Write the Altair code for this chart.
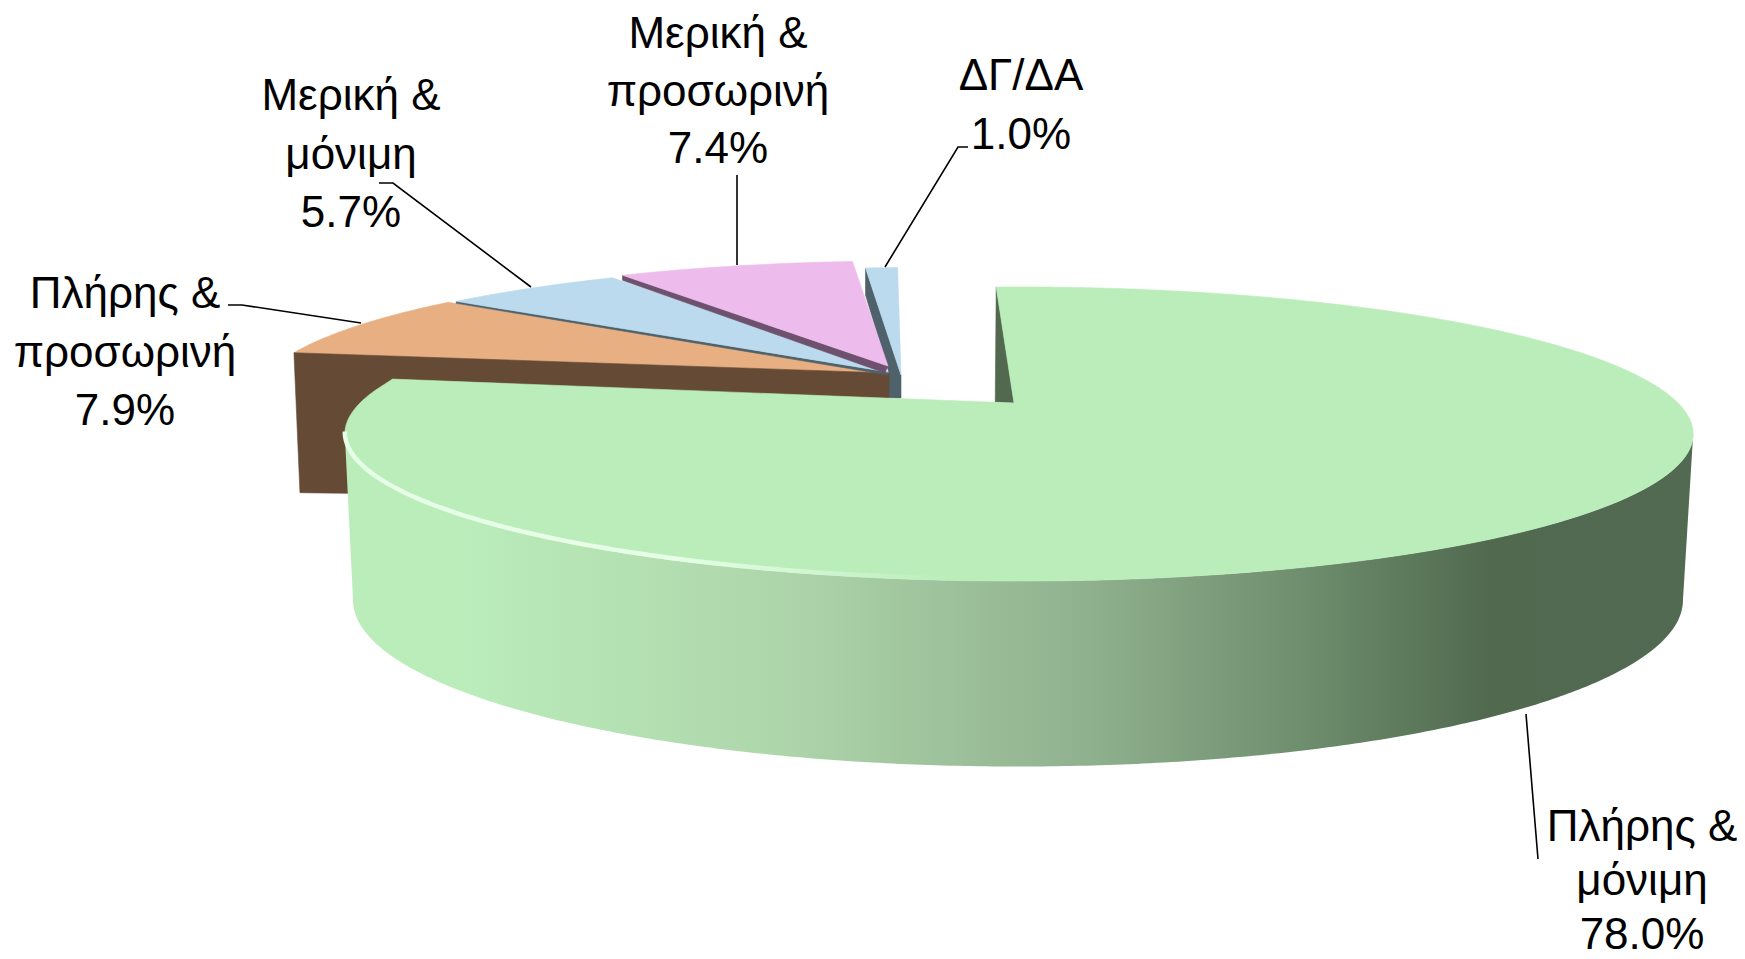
import math
import altair as alt
import pandas as pd

# ---- chart values ----
categories = ["Πλήρης & μόνιμη", "Πλήρης & προσωρινή", "Μερική & μόνιμη", "Μερική & προσωρινή", "ΔΓ/ΔΑ"]
shares = [78.0, 7.9, 5.7, 7.4, 1.0]
label_lines = [
    ["Πλήρης &", "μόνιμη", "78.0%"],
    ["Πλήρης &", "προσωρινή", "7.9%"],
    ["Μερική &", "μόνιμη", "5.7%"],
    ["Μερική &", "προσωρινή", "7.4%"],
    ["ΔΓ/ΔΑ", "1.0%"],
]

# ---- layout and style (page pixels of the reference) ----
START_ANGLE = -2.4
K = 0.211
MAIN_TOP = dict(cx=1019, cy=403, a=659, b=140.5)
MAIN_BOTTOM = dict(cx=1018, cy=565, a=650, b=159)
MAIN_APEX = (1014, 403)
CHAMFER = (6, -4)
BACK_ARC = {
    "Πλήρης & προσωρινή": dict(cx=888, cy=371, a=619, b=129),
    "Μερική & μόνιμη": dict(cx=896, cy=370, a=619, b=129),
    "Μερική & προσωρινή": dict(cx=906, cy=367.5, a=619, b=129),
    "ΔΓ/ΔΑ": dict(cx=919, cy=374, a=619, b=129),
}
BACK_APEX = {
    "Πλήρης & προσωρινή": (889, 373),
    "Μερική & μόνιμη": (888, 372),
    "Μερική & προσωρινή": (888, 366),
    "ΔΓ/ΔΑ": (901, 375),
}
TOP_COLOR = {
    categories[0]: "#bbedbb",
    categories[1]: "#e7af82",
    categories[2]: "#bbdaee",
    categories[3]: "#edbced",
    categories[4]: "#bbdaee",
}
BROWN, PINK_WALL, BLUE_WALL, GREEN_WALL = "#654b36", "#6e516e", "#4f626c", "#52694f"
WALL_STOPS = [
    (0.0, "#bbedbb"), (0.08, "#bbedbb"), (0.32, "#aed6ab"), (0.55, "#90b18e"),
    (0.72, "#6c8c6b"), (0.85, "#50694f"), (1.0, "#526a52"),
]
LEADERS = [
    [(1526, 714), (1538, 859)],
    [(228, 305), (242, 305), (361, 323)],
    [(379, 183), (393, 183), (531, 287)],
    [(737, 175), (737, 265)],
    [(968, 147), (958, 147), (885, 267)],
]
LABEL_CENTER_X = [1642, 125, 351, 718, 1021]
LABEL_FIRST_Y = [828, 295, 97, 35, 77]
LABEL_STEP = [54, 58.5, 58.5, 57.5, 58.5]
FONT = "Liberation Sans"
FONT_SIZE = 44
PROJ = dict(type="identity", scale=1, translate=[-8, -8])


# ---- geometry derived from the shares ----
def pt(theta, d):
    t = math.radians(theta)
    X, Y = math.sin(t), math.cos(t)
    den = 1 + K * Y
    return [d["cx"] + d["a"] * X / den, d["cy"] - d["b"] * Y / den]


def arc(t0, t1, d, step=0.5):
    n = max(2, int(abs(t1 - t0) / step))
    return [pt(t0 + (t1 - t0) * i / n, d) for i in range(n + 1)]


angles = {}
cur = START_ANGLE
for c, s in zip(categories, shares):
    angles[c] = (cur, cur + s * 3.6)
    cur += s * 3.6

# the points where each perspective ellipse is widest: the side wall ends there
SIDE = math.degrees(math.acos(-K))


def poly(points, **mark):
    ring = [list(p) for p in points] + [list(points[0])]
    f = {"type": "Feature", "properties": {}, "geometry": {"type": "Polygon", "coordinates": [ring]}}
    m = dict(mark)
    if "fill" in m and isinstance(m["fill"], str):
        m.setdefault("stroke", m["fill"])
        m.setdefault("strokeWidth", 0.6)
    return alt.Chart(alt.Data(values=[f])).mark_geoshape(**m).project(**PROJ)


def polyline(points, **mark):
    f = {"type": "Feature", "properties": {}, "geometry": {"type": "LineString", "coordinates": [list(p) for p in points]}}
    return alt.Chart(alt.Data(values=[f])).mark_geoshape(filled=False, **mark).project(**PROJ)


layers = []

# ΔΓ/ΔΑ
c = categories[4]
t0, t1 = angles[c]
ap = BACK_APEX[c]
outer = pt(t0, BACK_ARC[c])
layers.append(poly([outer, ap, (ap[0], ap[1] + 23), (ap[0] - 12, ap[1] + 23), (ap[0] - 12, ap[1] - 2), (outer[0], outer[1] + 27)], fill=BLUE_WALL))
layers.append(poly(arc(t0, t1, BACK_ARC[c]) + [ap], fill=TOP_COLOR[c]))

# Πλήρης & προσωρινή
c = categories[1]
t0, t1 = angles[c]
ap = BACK_APEX[c]
outer = pt(t0, BACK_ARC[c])
layers.append(poly(arc(t0, t1, BACK_ARC[c]) + [ap], fill=TOP_COLOR[c]))
layers.append(poly([outer, ap, (ap[0], ap[1] + 127), (outer[0] + 6, outer[1] + 140)], fill=BROWN))

# Μερική & μόνιμη
c = categories[2]
t0, t1 = angles[c]
ap = BACK_APEX[c]
outer = pt(t0, BACK_ARC[c])
layers.append(poly([outer, ap, (ap[0], ap[1] + 3), (outer[0], outer[1] + 2)], fill=BLUE_WALL))
layers.append(poly(arc(t0, t1, BACK_ARC[c]) + [ap], fill=TOP_COLOR[c]))

# Μερική & προσωρινή
c = categories[3]
t0, t1 = angles[c]
ap = BACK_APEX[c]
outer = pt(t0, BACK_ARC[c])
layers.append(poly([outer, ap, (ap[0] - 3, ap[1] + 7), (outer[0], outer[1] + 5)], fill=PINK_WALL))
layers.append(poly(arc(t0, t1, BACK_ARC[c]) + [ap], fill=TOP_COLOR[c]))

# Πλήρης & μόνιμη
c = categories[0]
t0, t1 = angles[c]
start = pt(t0, MAIN_TOP)
layers.append(poly([start, MAIN_APEX, (start[0] - 1, MAIN_APEX[1] - 1)], fill=GREEN_WALL))
wall_top = arc(SIDE, 360 - SIDE, MAIN_TOP)
wall_bottom = arc(360 - SIDE, SIDE, MAIN_BOTTOM)
layers.append(poly(
    wall_top + wall_bottom,
    fill={"gradient": "linear", "x1": 0, "x2": 1, "y1": 0, "y2": 0,
          "stops": [{"offset": o, "color": col} for o, col in WALL_STOPS]},
))
end = pt(t1, MAIN_TOP)
layers.append(poly(
    arc(t0, t1 - 3, MAIN_TOP) + [(end[0] + CHAMFER[0], end[1] + CHAMFER[1]), MAIN_APEX],
    fill=TOP_COLOR[c],
))
rim = dict(MAIN_TOP)
rim["cy"] -= 2
layers.append(polyline(
    arc(258, 185, rim),
    strokeWidth=4.5,
    stroke={"gradient": "linear", "x1": 0, "x2": 1, "y1": 0, "y2": 0,
            "stops": [{"offset": 0, "color": "#e6ffe6"}, {"offset": 0.55, "color": "#e6ffe6"}, {"offset": 1, "color": "#bbedbb"}]},
))

# leader lines
for line in LEADERS:
    layers.append(polyline(line, stroke="#000000", strokeWidth=1.6))

# labels
rows = []
for lines, x, y0, step in zip(label_lines, LABEL_CENTER_X, LABEL_FIRST_Y, LABEL_STEP):
    for i, text in enumerate(lines):
        rows.append({"lon": x, "lat": y0 + i * step, "text": text})
labels = pd.DataFrame(rows)
layers.append(
    alt.Chart(labels)
    .mark_text(font=FONT, fontSize=FONT_SIZE, color="#000000", align="center", baseline="middle")
    .encode(longitude="lon:Q", latitude="lat:Q", text="text:N")
    .project(**PROJ)
)

chart = (
    alt.layer(*layers)
    .properties(width=1729, height=951, padding=0, background="#ffffff")
    .configure_view(stroke=None)
)
chart.save("out.html", embed_options={"renderer": "svg", "actions": False})
